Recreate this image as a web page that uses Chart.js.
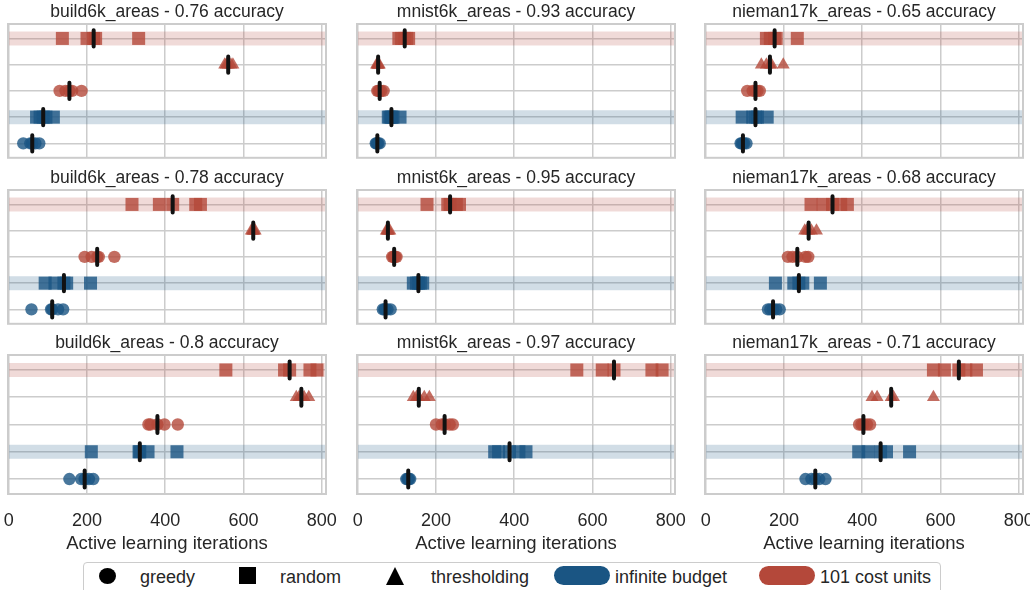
<!DOCTYPE html>
<html>
<head>
<meta charset="utf-8">
<script src="https://cdn.jsdelivr.net/npm/chart.js@4.4.1/dist/chart.umd.min.js"></script>
<style>
  html, body { margin: 0; padding: 0; background: #fff; }
  #fig { position: relative; width: 1030px; height: 590px; overflow: hidden;
         font-family: "Liberation Sans", Arial, sans-serif; color: #262626; }
  #fig canvas { position: absolute; }
  .lg-box { position: absolute; left: 83px; top: 562px; width: 856px; height: 40px;
            border: 1.5px solid #cccccc; border-radius: 4px; background: #fff; }
  .lg-txt { position: absolute; top: 566px; line-height: 22px; font-size: 18px; white-space: nowrap; }
  .lg-sym { position: absolute; }
</style>
</head>
<body>
<div id="fig">
  <div class="lg-box"></div>
  <div class="lg-sym" style="left:99px;top:568px;width:17px;height:16px;border-radius:50%;background:#000"></div>
  <div class="lg-txt" style="left:140px">greedy</div>
  <div class="lg-sym" style="left:239px;top:567px;width:17px;height:17px;background:#000"></div>
  <div class="lg-txt" style="left:280px">random</div>
  <div class="lg-sym" style="left:386px;top:567px;width:0;height:0;border-left:9px solid transparent;border-right:9px solid transparent;border-bottom:18px solid #000"></div>
  <div class="lg-txt" style="left:431px">thresholding</div>
  <div class="lg-sym" style="left:554px;top:566px;width:56px;height:19px;border-radius:10px;background:#1a5583"></div>
  <div class="lg-txt" style="left:615px">infinite budget</div>
  <div class="lg-sym" style="left:759px;top:566px;width:56px;height:19px;border-radius:10px;background:#b4483a"></div>
  <div class="lg-txt" style="left:820px">101 cost units</div>
</div>
<script>
// rows, top to bottom: random / thresholding / greedy (101 cost units), random / greedy (infinite budget)
const ROWS = ['random 101', 'thresholding 101', 'greedy 101', 'random inf', 'greedy inf'];

const TITLES = [
  'build6k_areas - 0.76 accuracy', 'mnist6k_areas - 0.93 accuracy', 'nieman17k_areas - 0.65 accuracy',
  'build6k_areas - 0.78 accuracy', 'mnist6k_areas - 0.95 accuracy', 'nieman17k_areas - 0.68 accuracy',
  'build6k_areas - 0.8 accuracy',  'mnist6k_areas - 0.97 accuracy', 'nieman17k_areas - 0.71 accuracy'
];

// iterations needed per run, one list per row (see ROWS)
const build6k_076 = [
  [137, 200, 217, 222, 332], [552, 556, 561, 568, 573], [130, 145, 155, 162, 186],
  [71, 80, 88, 95, 114], [37, 55, 60, 68, 78]
];
const mnist6k_093 = [
  [105, 112, 120, 125, 130], [48, 50, 52, 53, 55], [50, 53, 56, 60, 66],
  [78, 82, 86, 90, 108], [46, 48, 50, 52, 56]
];
const nieman17k_065 = [
  [155, 165, 176, 180, 234], [142, 155, 164, 168, 198], [106, 120, 127, 132, 138],
  [93, 120, 127, 132, 157], [89, 92, 95, 98, 104]
];
const build6k_078 = [
  [315, 385, 419, 478, 490], [620, 623, 625, 627, 630], [194, 212, 226, 230, 270],
  [93, 118, 141, 148, 209], [58, 108, 111, 126, 139]
];
const mnist6k_095 = [
  [177, 230, 236, 252, 260], [73, 75, 77, 79, 82], [88, 91, 93, 96, 99],
  [142, 150, 155, 160, 166], [64, 68, 71, 76, 84]
];
const nieman17k_068 = [
  [269, 300, 324, 345, 362], [253, 258, 263, 270, 283], [210, 222, 234, 255, 262],
  [178, 225, 238, 248, 293], [159, 165, 172, 180, 189]
];
const build6k_080 = [
  [555, 705, 718, 770, 788], [735, 742, 748, 755, 767], [357, 362, 380, 398, 432],
  [211, 333, 335, 356, 430], [155, 185, 194, 205, 216]
];
const mnist6k_097 = [
  [560, 625, 655, 752, 778], [142, 150, 156, 170, 183], [200, 215, 222, 235, 243],
  [350, 360, 388, 412, 430], [124, 127, 129, 131, 134]
];
const nieman17k_071 = [
  [582, 610, 647, 665, 692], [425, 438, 474, 480, 582], [392, 398, 403, 412, 420],
  [391, 415, 447, 462, 521], [255, 270, 280, 290, 306]
];
const PANELS = [build6k_076, mnist6k_093, nieman17k_065,
                build6k_078, mnist6k_095, nieman17k_068,
                build6k_080, mnist6k_097, nieman17k_071];

const X_TICKS = [0, 200, 400, 600, 800];
const X_MIN = -2, X_MAX = 811;
const BAND_ROWS = [0, 3];

// styling
const FONT = '"Liberation Sans", Arial, sans-serif';
const INK = '#262626';
const GRID = '#cccccc';
const RED = '180,72,58', BLUE = '26,85,131';
const ROW_COLOR = [RED, RED, RED, BLUE, BLUE];
const ROW_SHAPE = ['rect', 'triangle', 'circle', 'rect', 'circle'];
const SHAPE_R = { rect: 9.2, triangle: 7.5, circle: 6.2 };
const MED_HALF = 0.31;

// layout of the 3x3 grid (plot areas)
const AREA_L = [8, 357, 705], AREA_T = [24, 190, 355];
const AREA_W = 318, AREA_H = 139, PAD = 14, TITLE_H = 24, XAXIS_H = 64;

Chart.defaults.font.family = FONT;
Chart.defaults.color = INK;

const framePlugin = {
  id: 'frame',
  afterDatasetsDraw(chart) {
    const a = chart.chartArea, ctx = chart.ctx;
    ctx.save();
    ctx.strokeStyle = GRID;
    ctx.lineWidth = 2;
    ctx.strokeRect(a.left, a.top, a.right - a.left, a.bottom - a.top);
    ctx.restore();
  }
};

function median(vals) {
  const s = vals.slice().sort((a, b) => a - b);
  return s[Math.floor(s.length / 2)];
}

function buildPanel(i) {
  const r = Math.floor(i / 3), c = i % 3;
  const bottom = r === 2;
  const rows = PANELS[i];
  const cv = document.createElement('canvas');
  const w = AREA_W + 2 * PAD;
  const h = TITLE_H + AREA_H + (bottom ? XAXIS_H : 4);
  cv.width = w; cv.height = h;
  cv.style.left = (AREA_L[c] - PAD) + 'px';
  cv.style.top = (AREA_T[r] - TITLE_H) + 'px';
  cv.style.width = w + 'px'; cv.style.height = h + 'px';
  document.getElementById('fig').appendChild(cv);

  const datasets = [];
  rows.forEach((vals, k) => {
    const m = median(vals);
    datasets.push({
      type: 'line', data: [{ x: m, y: k - MED_HALF }, { x: m, y: k + MED_HALF }],
      borderColor: '#111', borderWidth: 4, borderCapStyle: 'round',
      pointRadius: 0, order: 0, clip: false
    });
    datasets.push({
      type: 'scatter', data: vals.map(v => ({ x: v, y: k })),
      pointStyle: ROW_SHAPE[k], pointRadius: SHAPE_R[ROW_SHAPE[k]],
      backgroundColor: 'rgba(' + ROW_COLOR[k] + ',0.8)', borderWidth: 0,
      order: 1, clip: false
    });
  });
  BAND_ROWS.forEach(k => {
    datasets.push({
      type: 'line', data: [{ x: X_MIN, y: k }, { x: X_MAX, y: k }],
      borderColor: 'rgba(' + ROW_COLOR[k] + ',0.2)', borderWidth: 14, borderCapStyle: 'butt',
      pointRadius: 0, order: 2
    });
  });

  new Chart(cv, {
    data: { datasets },
    plugins: [framePlugin],
    options: {
      responsive: false, animation: false, events: [], devicePixelRatio: 1,
      layout: { padding: { left: PAD, right: PAD, top: 0, bottom: bottom ? 0 : 4 } },
      plugins: {
        legend: { display: false }, tooltip: { enabled: false },
        title: { display: true, text: TITLES[i], color: INK,
                 font: { family: FONT, size: 17.5, weight: 'normal', lineHeight: 1.2 },
                 padding: { top: 1.5, bottom: 1.5 } }
      },
      scales: {
        x: {
          type: 'linear', min: X_MIN, max: X_MAX,
          afterBuildTicks: s => { s.ticks = X_TICKS.map(v => ({ value: v })); },
          afterFit: s => { s.height = bottom ? XAXIS_H : 0; s.paddingLeft = 0; s.paddingRight = 0; },
          ticks: { display: bottom, color: INK, padding: 16, maxRotation: 0,
                   font: { family: FONT, size: 18 } },
          grid: { color: GRID, lineWidth: 1.5, drawTicks: false },
          border: { display: false },
          title: { display: bottom, text: 'Active learning iterations', color: INK,
                   font: { family: FONT, size: 18.5, lineHeight: 1.2 }, padding: { top: 0, bottom: 2.9 } }
        },
        y: {
          type: 'linear', reverse: true, min: -0.55, max: 4.55,
          afterBuildTicks: s => { s.ticks = ROWS.map((_, k) => ({ value: k })); },
          afterFit: s => { s.width = 0; },
          ticks: { display: false },
          grid: { color: GRID, lineWidth: 1.5, drawTicks: false },
          border: { display: false }
        }
      }
    }
  });
}

for (let i = 0; i < 9; i++) buildPanel(i);
</script>
</body>
</html>
